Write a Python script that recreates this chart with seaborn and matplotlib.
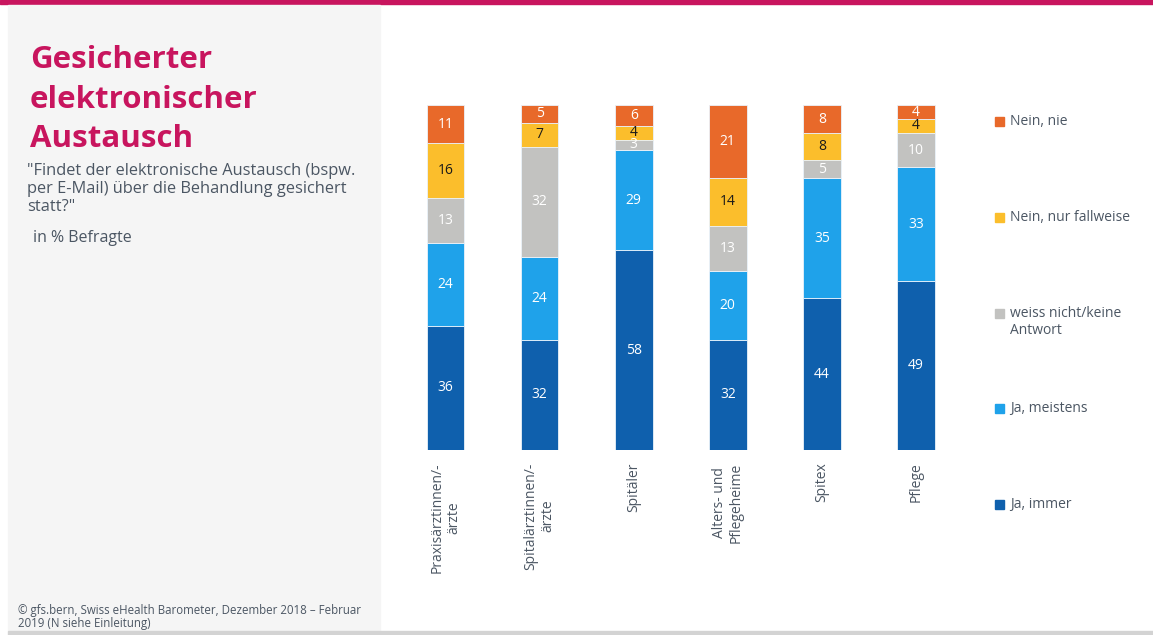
import matplotlib
matplotlib.use("Agg")
import matplotlib.pyplot as plt
from matplotlib.patches import Rectangle
import seaborn as sns
import pandas as pd

# ---- data ----
categories = ["Praxisärztinnen/-\närzte", "Spitalärztinnen/-\närzte", "Spitäler",
              "Alters- und\nPflegeheime", "Spitex", "Pflege"]
ja_immer = [36, 32, 58, 32, 44, 49]
ja_meistens = [24, 24, 29, 20, 35, 33]
weiss_nicht = [13, 32, 3, 13, 5, 10]
nein_fallweise = [16, 7, 4, 14, 8, 4]
nein_nie = [11, 5, 6, 21, 8, 4]
series_names = ["Ja, immer", "Ja, meistens", "weiss nicht/keine\nAntwort",
                "Nein, nur fallweise", "Nein, nie"]
series_values = [ja_immer, ja_meistens, weiss_nicht, nein_fallweise, nein_nie]

title = "Gesicherter\nelektronischer\nAustausch"
subtitle = "\"Findet der elektronische Austausch (bspw.\nper E-Mail) über die Behandlung gesichert\nstatt?\""
unit = "in % Befragte"
source = "© gfs.bern, Swiss eHealth Barometer, Dezember 2018 – Februar\n2019 (N siehe Einleitung)"

# ---- style ----
colors = ["#0F60AD", "#1FA2EA", "#C2C2C0", "#FBBE2C", "#E8692A"]
label_colors = ["white", "white", "white", "#1a1a1a", "white"]
text_gray = "#4B5663"
magenta = "#C8155E"

sns.set_theme(style="white")
plt.rcParams["font.family"] = ["Open Sans", "DejaVu Sans"]

W, H = 1153, 635
fig = plt.figure(figsize=(W / 100, H / 100), dpi=100)

def fx(px):
    return px / W

def fy(py):
    return 1 - py / H

# background decorations
fig.patches.append(Rectangle((0, fy(4)), 1, 4 / H, transform=fig.transFigure,
                             color=magenta, zorder=0))
fig.patches.append(Rectangle((fx(8), fy(630)), fx(380) - fx(8), (630 - 5) / H,
                             transform=fig.transFigure, color="#F5F5F5", zorder=0))
fig.patches.append(Rectangle((fx(8), 0), 1 - fx(8), 4 / H, transform=fig.transFigure,
                             color="#D3D3D3", zorder=0))

# axes
left, right = 398.5, 963.0
top, bottom = 105.3, 450.0
ax = fig.add_axes([fx(left), fy(bottom), fx(right) - fx(left), (bottom - top) / H])
ax.set_facecolor("none")

cum = [0] * len(categories)
for vals, col, lc in zip(series_values, colors, label_colors):
    df = pd.DataFrame({"cat": categories, "val": vals})
    sns.barplot(data=df, x="cat", y="val", color=col, width=0.4, bottom=cum,
                saturation=1, edgecolor="#EAF2FA", linewidth=0.6, ax=ax)
    ax.bar_label(ax.containers[-1], labels=[str(v) for v in vals], label_type="center",
                 color=lc, fontsize=10, family=["Open Sans", "DejaVu Sans"])
    cum = [c + v for c, v in zip(cum, vals)]

ax.set_xlim(-0.5, len(categories) - 0.5)
ax.set_ylim(0, 100)
ax.set_xlabel("")
ax.set_ylabel("")
ax.set_yticks([])
sns.despine(ax=ax, left=True, bottom=True)
ax.tick_params(axis="x", length=0, pad=9, colors=text_gray, labelsize=10)
for t in ax.get_xticklabels():
    t.set_rotation(90)
    t.set_ha("center")
    t.set_va("top")
    t.set_multialignment("center")

# legend (manual, top entry first)
for i, (name, col) in enumerate(zip(series_names[::-1], colors[::-1])):
    yc = 121.5 + i * 95.8
    fig.patches.append(Rectangle((fx(995), fy(yc + 4.5)), 9 / W, 9 / H,
                                 transform=fig.transFigure, color=col))
    for j, line in enumerate(name.split("\n")):
        fig.text(fx(1010), fy(yc + j * 17.5), line, ha="left", va="center",
                 fontsize=10, color=text_gray)

# texts on the left panel
fig.text(fx(30), fy(45), title, ha="left", va="top", fontsize=22.5, fontweight="bold",
         color=magenta, linespacing=1.42)
fig.text(fx(27), fy(163), subtitle, ha="left", va="top", fontsize=11.8,
         color=text_gray, linespacing=1.17)
fig.text(fx(33), fy(230), unit, ha="left", va="top", fontsize=11.5, color=text_gray)
fig.text(fx(18), fy(604), source, ha="left", va="top", fontsize=8.3, color=text_gray,
         linespacing=1.0)

fig.savefig("out.png", dpi=100)
